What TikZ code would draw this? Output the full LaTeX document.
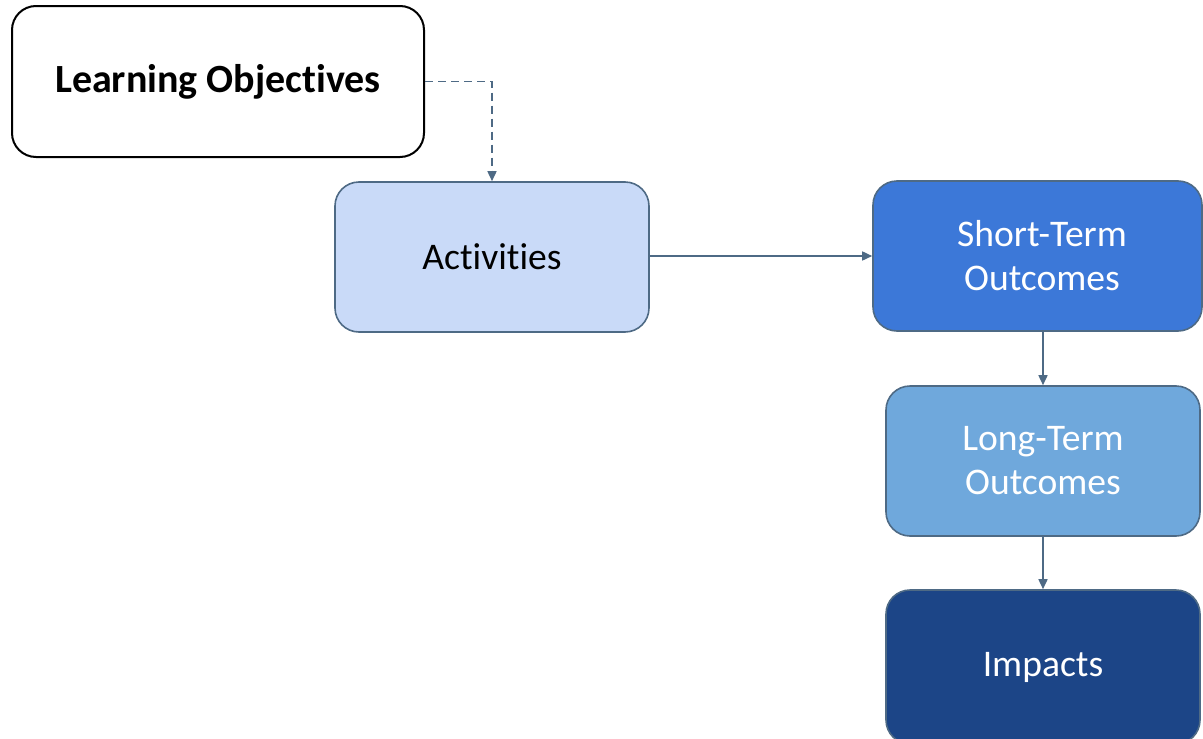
\documentclass[tikz,border=0pt]{standalone}
\usepackage{fontspec}
\setmainfont[Ligatures=NoCommon]{Carlito}
\usetikzlibrary{arrows.meta}
\definecolor{edgec}{HTML}{4E6A85}
\definecolor{actfill}{HTML}{C9DAF8}
\definecolor{stfill}{HTML}{3C78D8}
\definecolor{ltfill}{HTML}{6FA8DC}
\definecolor{impfill}{HTML}{1C4587}
\tikzset{
  box/.style={draw=edgec, line width=1.6pt, rounded corners=24pt, inner sep=0pt, align=center,
    font=\fontsize{37.6}{44}\selectfont},
  conn/.style={draw=edgec, line width=1.6pt, -{Triangle[length=10pt,width=9pt]}}
}
\begin{document}
\begin{tikzpicture}[x=1pt,y=-1pt]
\useasboundingbox (0,0) rectangle (1203,739);
\node[box, draw=black, line width=2pt, fill=white, minimum width=412pt, minimum height=151pt,
  font=\fontsize{40}{48}\selectfont\bfseries] (lo) at (218,81.5) {Learning Objectives};
\node[box, fill=actfill, minimum width=314pt, minimum height=150pt] (act) at (492,257) {Activities};
\node[box, fill=stfill, text=white, minimum width=329pt, minimum height=150pt] (st) at (1037.5,256) {\hspace*{9pt}Short-Term\\\hspace*{9pt}Outcomes};
\node[box, fill=ltfill, text=white, minimum width=314pt, minimum height=150pt] (lt) at (1043,461) {Long-Term\\Outcomes};
\node[box, fill=impfill, text=white, minimum width=314pt, minimum height=154pt] (imp) at (1043,667) {Impacts};
\draw[conn, dash pattern=on 8pt off 5pt] (lo.east) -| (act.north);
\draw[conn] (act.east |- st.west) -- (st.west);
\draw[conn] (st.south -| lt.north) -- (lt.north);
\draw[conn] (lt.south) -- (imp.north);
\end{tikzpicture}
\end{document}
